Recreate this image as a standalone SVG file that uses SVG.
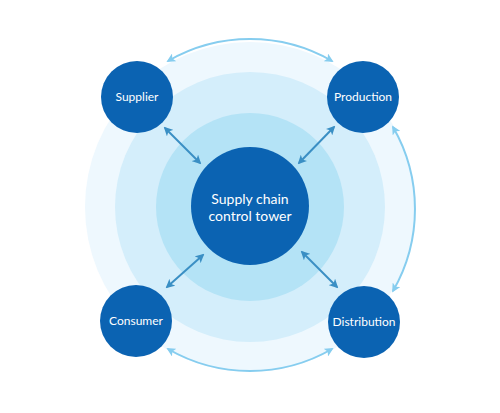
<svg xmlns="http://www.w3.org/2000/svg" width="500" height="413" viewBox="0 0 500 413">
<defs>
<style>
.node{fill:#0b63b2}
.lbl{fill:#fff;font-family:Lato,"Open Sans",sans-serif;font-size:12px;text-anchor:middle}
.ctr{fill:#fff;font-family:Lato,"Open Sans",sans-serif;font-size:14px;text-anchor:middle}
.arc{fill:none;stroke:#86cdef;stroke-width:2}
.dia{fill:none;stroke:#3a8fc4;stroke-width:2}
</style>
<marker id="ha" viewBox="0 0 10 10" refX="8" refY="5" markerWidth="4.5" markerHeight="4.5" orient="auto-start-reverse" markerUnits="strokeWidth"><path d="M0,0L10,5L0,10L2.5,5z" fill="#86cdef"/></marker>
<marker id="hd" viewBox="0 0 10 10" refX="8" refY="5" markerWidth="4.5" markerHeight="4.5" orient="auto-start-reverse" markerUnits="strokeWidth"><path d="M0,0L10,5L0,10L2.5,5z" fill="#3a8fc4"/></marker>
</defs>
<rect width="500" height="413" fill="#fff"/>
<g id="rings">
<circle cx="250" cy="207" r="165" fill="#eef8fe"/>
<circle cx="250" cy="207" r="135" fill="#d4eefb"/>
<circle cx="250" cy="207" r="94" fill="#b4e3f6"/>
</g>
<g id="connectors">
<path class="arc" d="M168,61 A164,164 0 0 1 332,61" marker-start="url(#ha)" marker-end="url(#ha)"/>
<path class="arc" d="M393,127 A164,164 0 0 1 393,291" marker-start="url(#ha)" marker-end="url(#ha)"/>
<path class="arc" d="M168,349 A164,164 0 0 0 332,349" marker-start="url(#ha)" marker-end="url(#ha)"/>
<path class="dia" d="M165,128L200,163" marker-start="url(#hd)" marker-end="url(#hd)"/>
<path class="dia" d="M334,127L299,163" marker-start="url(#hd)" marker-end="url(#hd)"/>
<path class="dia" d="M203,255L167,287" marker-start="url(#hd)" marker-end="url(#hd)"/>
<path class="dia" d="M302,252L337,287" marker-start="url(#hd)" marker-end="url(#hd)"/>
</g>
<g id="center"><circle class="node" cx="250" cy="206" r="59"/><text class="ctr" x="250" y="204">Supply chain</text><text class="ctr" x="250" y="221">control tower</text></g>
<g id="supplier"><circle class="node" cx="137" cy="97" r="36"/><text class="lbl" x="137" y="101">Supplier</text></g>
<g id="production"><circle class="node" cx="363" cy="97" r="36"/><text class="lbl" x="363" y="101">Production</text></g>
<g id="consumer"><circle class="node" cx="136" cy="321" r="36"/><text class="lbl" x="136" y="325">Consumer</text></g>
<g id="distribution"><circle class="node" cx="364" cy="322" r="36"/><text class="lbl" x="364" y="326">Distribution</text></g>
</svg>
